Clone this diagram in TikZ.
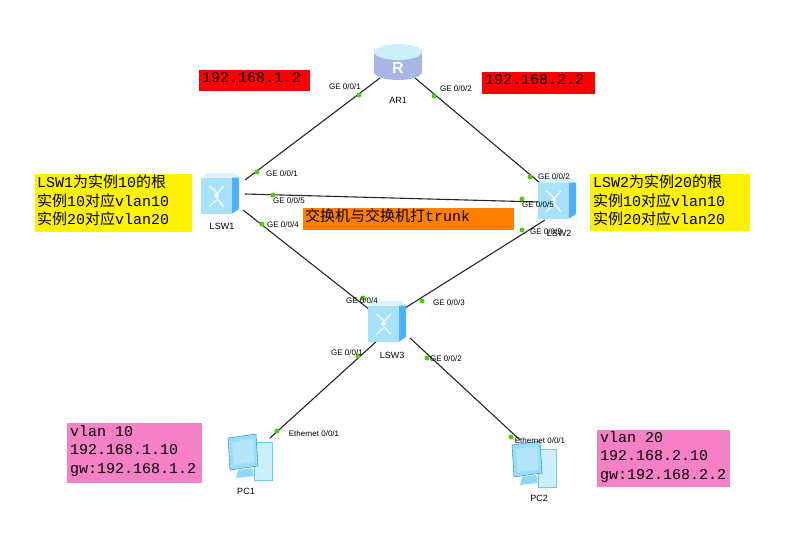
\documentclass[tikz,border=0pt]{standalone}
\usepackage{fontspec}
\setmainfont{Liberation Sans}
\setmonofont{Liberation Mono}
\newfontfamily\cjk{Noto Sans CJK SC}
\begin{document}
\begin{tikzpicture}[x=1pt,y=-1pt,
  link/.style={line width=1.1pt,black!85},
  port/.style={circle,fill=green!70!black!60!lime,inner sep=0pt,minimum size=5pt},
  plab/.style={font=\fontsize{8}{8}\selectfont,inner sep=0pt},
  devlab/.style={font=\fontsize{9}{9}\selectfont,inner sep=0pt},
  note/.style={font=\fontsize{15}{18.5}\selectfont\ttfamily,align=left,inner sep=0pt,anchor=north west}]
\useasboundingbox (0,0) rectangle (806,541);
% icons
\coordinate (ar1) at (398,62);
\coordinate (sw1) at (220,192);
\coordinate (sw2) at (557,197);
\coordinate (sw3) at (387,320);
\coordinate (pc1) at (248,458);
\coordinate (pc2) at (532,465);
% links
\draw[link] (380,78) -- (245,180);
\draw[link] (415,78) -- (540,183);
\draw[link] (245,194) -- (540,202);
\draw[link] (243,210) -- (370,310);
\draw[link] (545,220) -- (405,308);
\draw[link] (378,340) -- (270,438);
\draw[link] (410,338) -- (520,440);
% router
\begin{scope}[shift={(ar1)}]
\fill[cyan!40!blue!35] (-24,-10) rectangle (24,10);
\fill[cyan!40!blue!35] (0,10) ellipse (24 and 8);
\fill[cyan!20] (0,-10) ellipse (24 and 8);
\node[text=white,font=\bfseries\fontsize{16}{16}\selectfont] at (0,6) {R};
\end{scope}
% switches
\foreach \c in {sw1,sw2,sw3}{
\begin{scope}[shift={(\c)},scale=1.2]
\fill[blue!45!cyan!70] (10,-16) -- (16,-12) -- (16,14) -- (10,18) -- cycle;
\fill[cyan!15] (-16,-12) -- (-10,-16) -- (10,-16) -- (16,-12) -- cycle;
\fill[cyan!35] (-16,-12) rectangle (10,18);
\draw[white,line width=1.2pt] (-9,-5)--(-2,1) (3,-5)--(-2,1) (-9,12)--(-2,6) (3,12)--(-2,6);
\fill[white] (-3,3) circle (2pt);
\end{scope}}
% PCs
\foreach \c in {pc1,pc2}{
\begin{scope}[shift={(\c)}]
\fill[cyan!20,draw=cyan!60] (6,-16) rectangle (24,22);
\fill[cyan!40,draw=cyan!60!blue] (-20,-20) -- (8,-24) -- (10,8) -- (-18,12) -- cycle;
\fill[white!70!cyan] (-16,-16) -- (5,-19) -- (6,4) -- (-14,7) -- cycle;
\fill[cyan!45] (-10,12) -- (4,10) -- (6,18) -- (-12,20) -- cycle;
\end{scope}}
% device labels
\node[devlab] (lar1) at (398,100) {AR1};
\node[devlab] (lsw1) at (222,226) {LSW1};
\node[devlab] (lsw2) at (559,233) {LSW2};
\node[devlab] (lsw3) at (392,355) {LSW3};
\node[devlab] (lpc1) at (246,491) {PC1};
\node[devlab] (lpc2) at (539,498) {PC2};
% ports
\foreach \p in {(359,95),(257,172),(434,96),(530,177),(273,195),(522,199),(262,224),(363,298),(522,230),(422,301),(358,356),(277,431),(427,358),(511,437)} \node[port] at \p {};
\node[plab] at (345,87) {GE 0/0/1};
\node[plab] at (282,174) {GE 0/0/1};
\node[plab] at (456,89) {GE 0/0/2};
\node[plab] at (554,177) {GE 0/0/2};
\node[plab] at (289,201) {GE 0/0/5};
\node[plab] at (538,205) {GE 0/0/5};
\node[plab] at (283,225) {GE 0/0/4};
\node[plab] at (362,301) {GE 0/0/4};
\node[plab] at (546,232) {GE 0/0/3};
\node[plab] at (449,303) {GE 0/0/3};
\node[plab] at (347,353) {GE 0/0/1};
\node[plab] at (314,434) {Ethernet 0/0/1};
\node[plab] at (446,359) {GE 0/0/2};
\node[plab] at (540,441) {Ethernet 0/0/1};
% notes
\fill[red] (199,70) rectangle (310,91);
\node[note] (n1) at (202,72) {192.168.1.2};
\fill[red] (482,72) rectangle (595,94);
\node[note] (n2) at (485,74) {192.168.2.2};
\fill[yellow] (35,174) rectangle (192,232);
\node[note] (n3) at (37,175) {LSW1{\cjk 为实例}10{\cjk 的根}\\{\cjk 实例}10{\cjk 对应}vlan10\\{\cjk 实例}20{\cjk 对应}vlan20};
\fill[yellow] (590,174) rectangle (750,231);
\node[note] (n4) at (593,175) {LSW2{\cjk 为实例}20{\cjk 的根}\\{\cjk 实例}10{\cjk 对应}vlan10\\{\cjk 实例}20{\cjk 对应}vlan20};
\fill[orange] (303,208) rectangle (514,230);
\node[note] (n5) at (305,209) {{\cjk 交换机与交换机打}trunk};
\fill[magenta!50] (67,423) rectangle (202,483);
\node[note] (n6) at (70,425) {vlan 10\\192.168.1.10\\gw:192.168.1.2};
\fill[magenta!50] (597,430) rectangle (730,487);
\node[note] (n7) at (600,431) {vlan 20\\192.168.2.10\\gw:192.168.2.2};
\end{tikzpicture}
\end{document}
